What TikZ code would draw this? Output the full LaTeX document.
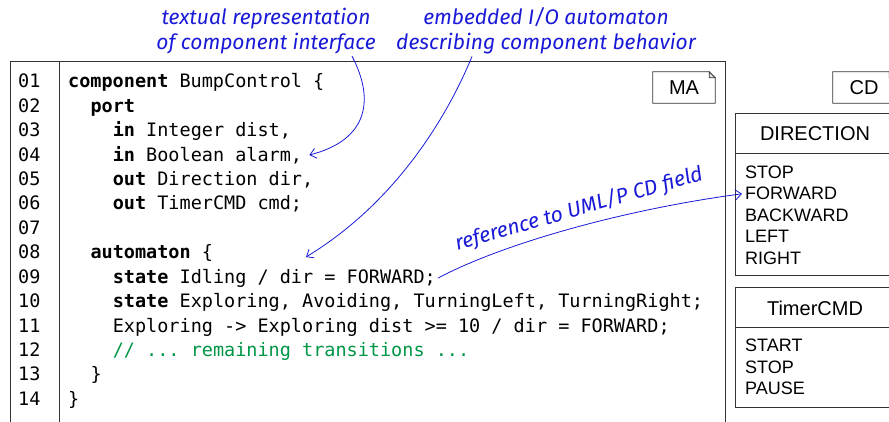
\documentclass[tikz,border=0pt]{standalone}
\usepackage{fontspec}
\setmonofont{DejaVu Sans Mono}
\setsansfont{Liberation Sans}
\newfontfamily\handfont{Fira Sans}
\usepackage{tikz}
\usetikzlibrary{arrows.meta}
\definecolor{annblue}{RGB}{25,25,215}
\definecolor{cmtgreen}{RGB}{0,150,70}
\definecolor{earfill}{RGB}{225,225,225}

\begin{document}
\begin{tikzpicture}[x=1pt,y=-1pt]
\tikzstyle{every node}=[inner sep=0pt]
\tikzstyle{code}=[anchor=base west, font=\ttfamily\fontsize{18.5}{24}\selectfont]
\tikzstyle{frame}=[line width=1pt, black!80]
\tikzstyle{note}=[minimum width=62pt, minimum height=31pt, font=\sffamily\fontsize{20}{24}\selectfont]
\tikzstyle{head}=[font=\sffamily\fontsize{20}{24}\selectfont]
\tikzstyle{attr}=[anchor=base west, font=\sffamily\fontsize{18}{22}\selectfont]
\tikzstyle{ann}=[align=center, text=annblue, font=\handfont\itshape\fontsize{21}{25}\selectfont]
\tikzstyle{annarrow}=[annblue, line width=0.8pt, -{Straight Barb[length=6pt, width=10pt]}]
\useasboundingbox (0,0) rectangle (889,422);

% MA frame
\draw[frame] (10,422) -- (10,62) -- (725,62) -- (725,422);
\draw[frame] (59,62) -- (59,422);
\node[note] (ma) at (684,87.5) {MA};
\draw[frame, line width=0.8pt] (ma.north west) -- ([xshift=-6pt]ma.north east) -- ([yshift=-6pt]ma.north east) -- (ma.south east) -- (ma.south west) -- cycle;
\draw[frame, line width=0.6pt, fill=earfill] ([xshift=-6pt]ma.north east) -- ([xshift=-6pt, yshift=-6pt]ma.north east) -- ([yshift=-6pt]ma.north east) -- cycle;

% line numbers
\node[code] (n1) at (18,88) {01};
\node[code] (n2) at (18,112.4) {02};
\node[code] (n3) at (18,136.8) {03};
\node[code] (n4) at (18,161.2) {04};
\node[code] (n5) at (18,185.6) {05};
\node[code] (n6) at (18,210) {06};
\node[code] (n7) at (18,234.4) {07};
\node[code] (n8) at (18,258.8) {08};
\node[code] (n9) at (18,283.2) {09};
\node[code] (n10) at (18,307.6) {10};
\node[code] (n11) at (18,332) {11};
\node[code] (n12) at (18,356.4) {12};
\node[code] (n13) at (18,380.8) {13};
\node[code] (n14) at (18,405.2) {14};

% code lines
\node[code] (l1) at (68,88) {\textbf{component} BumpControl \{};
\node[code] (l2) at (90.3,112.4) {\textbf{port}};
\node[code] (l3) at (112.6,136.8) {\textbf{in} Integer dist,};
\node[code] (l4) at (112.6,161.2) {\textbf{in} Boolean alarm,};
\node[code] (l5) at (112.6,185.6) {\textbf{out} Direction dir,};
\node[code] (l6) at (112.6,210) {\textbf{out} TimerCMD cmd;};
\node[code] (l8) at (90.3,258.8) {\textbf{automaton} \{};
\node[code] (l9) at (112.6,283.2) {\textbf{state} Idling / dir = FORWARD;};
\node[code] (l10) at (112.6,307.6) {\textbf{state} Exploring, Avoiding, TurningLeft, TurningRight;};
\node[code] (l11) at (112.6,332) {Exploring -> Exploring dist >= 10 / dir = FORWARD;};
\node[code, text=cmtgreen] (l12) at (112.6,356.4) {// ... remaining transitions ...};
\node[code] (l13) at (90.3,380.8) {\}};
\node[code] (l14) at (68,405.2) {\}};

% CD side
\node[note] (cd) at (864,87.5) {CD};
\draw[frame, line width=0.8pt] (cd.north west) -- ([xshift=-6pt]cd.north east) -- ([yshift=-6pt]cd.north east) -- (cd.south east) -- (cd.south west) -- cycle;
\draw[frame, line width=0.6pt, fill=earfill] ([xshift=-6pt]cd.north east) -- ([xshift=-6pt, yshift=-6pt]cd.north east) -- ([yshift=-6pt]cd.north east) -- cycle;

\draw[frame] (900,114) -| (735,275) -- (900,275);
\draw[frame] (735,154) -- (900,154);
\node[head] (dhead) at (815,134) {DIRECTION};
\node[attr] (dstop) at (745,178.5) {STOP};
\node[attr] (dfwd) at (745,200) {FORWARD};
\node[attr] (dback) at (745,221.5) {BACKWARD};
\node[attr] (dleft) at (745,243) {LEFT};
\node[attr] (dright) at (745,264.5) {RIGHT};

\draw[frame] (900,287) -| (735,407) -- (900,407);
\draw[frame] (735,327) -- (900,327);
\node[head] (thead) at (815,308) {TimerCMD};
\node[attr] (tstart) at (745,351.5) {START};
\node[attr] (tstop) at (745,373) {STOP};
\node[attr] (tpause) at (745,394.5) {PAUSE};

% annotations
\node[ann] (ann-iface) at (266,31) {textual representation\\of component interface};
\node[ann] (ann-auto) at (546,31) {embedded I/O automaton\\describing component behavior};
\node[ann, rotate=16] (ann-ref) at (579,209) {reference to UML/P CD field};
\coordinate (auto-tip) at (306,257);

\draw[annarrow] ([xshift=86pt, yshift=-2pt]ann-iface.south) .. controls (375,100) and (368,140) .. ([xshift=7pt]l4.east);
\draw[annarrow] ([xshift=-74pt, yshift=-2pt]ann-auto.south) .. controls (450,110) and (400,200) .. (auto-tip);
\draw[annarrow] ([xshift=2pt]l9.east) .. controls (500,245) and (620,210) .. ([xshift=-3pt]dfwd.west);
\end{tikzpicture}
\end{document}
